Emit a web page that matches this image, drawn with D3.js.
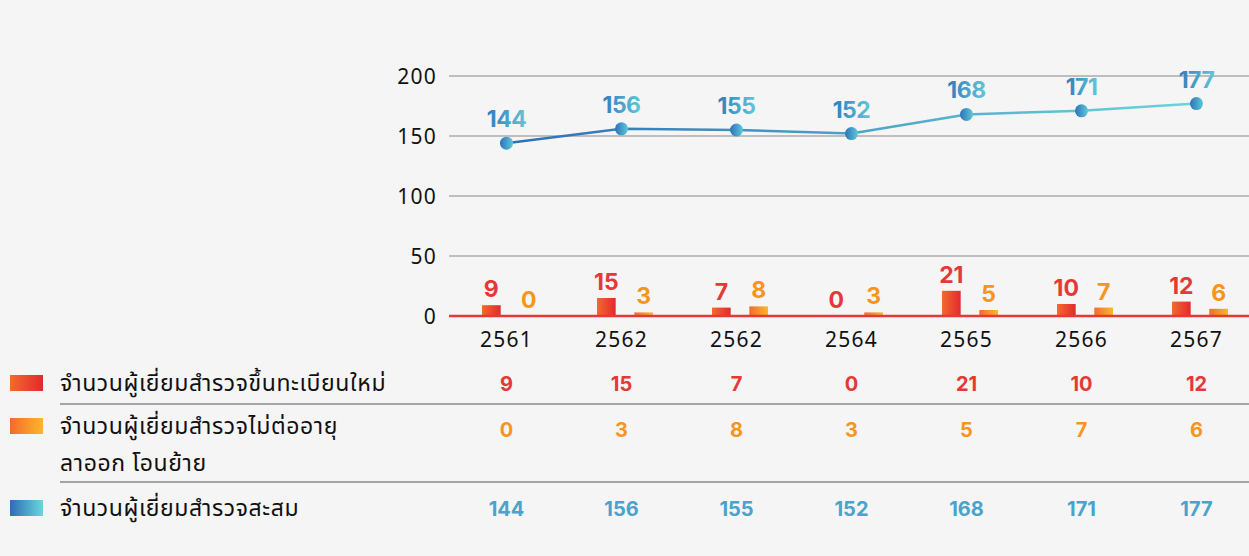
<!DOCTYPE html>
<html>
<head>
<meta charset="utf-8">
<script src="https://cdn.jsdelivr.net/npm/d3@7"></script>
<style>
  body { margin: 0; background: #f5f5f5; }
  svg { display: block; font-family: "Noto Sans Thai", "Noto Sans", sans-serif; }
  .num { font-family: Inter, "Noto Sans", sans-serif; font-weight: 700; }
  .tick { letter-spacing: 1.2px; }
</style>
</head>
<body>
<script>
// data
var years = ["2561", "2562", "2562", "2564", "2565", "2566", "2567"];
var newVisitors = [9, 15, 7, 0, 21, 10, 12];
var leftVisitors = [0, 3, 8, 3, 5, 7, 6];
var totalVisitors = [144, 156, 155, 152, 168, 171, 177];
var yTicks = [0, 50, 100, 150, 200];
var legendLabels = [
  ["จำนวนผู้เยี่ยมสำรวจขึ้นทะเบียนใหม่"],
  ["จำนวนผู้เยี่ยมสำรวจไม่ต่ออายุ", "ลาออก โอนย้าย"],
  ["จำนวนผู้เยี่ยมสำรวจสะสม"]
];

var width = 1249,
    height = 556;

var svg = d3.select("body")
    .append("svg")
    .attr("width", width)
    .attr("height", height);

var defs = svg.append("defs");

function hGrad(id, c1, c2) {
  var g = defs.append("linearGradient").attr("id", id)
      .attr("x1", "0%").attr("x2", "100%").attr("y1", "0%").attr("y2", "0%");
  g.append("stop").attr("offset", "0%").attr("stop-color", c1);
  g.append("stop").attr("offset", "100%").attr("stop-color", c2);
}
hGrad("gNew", "#f26b2d", "#e2292e");
hGrad("gOut", "#f26b2d", "#fcb72b");
hGrad("gTot", "#2d6db4", "#6ad6dc");
hGrad("gDot", "#2d72b8", "#5ec8da");
hGrad("gTxt", "#2f7bbd", "#61c6d8");

// line gradient across the whole plot
var lineGrad = defs.append("linearGradient").attr("id", "gLine")
    .attr("gradientUnits", "userSpaceOnUse")
    .attr("x1", 500).attr("x2", 1200).attr("y1", 0).attr("y2", 0);
lineGrad.append("stop").attr("offset", "0%").attr("stop-color", "#2d6db4");
lineGrad.append("stop").attr("offset", "100%").attr("stop-color", "#6ad6dc");

//scales
var x = d3.scaleBand()
    .domain(d3.range(years.length))
    .range([449, 1254]);

var y = d3.scaleLinear()
    .domain([0, 200])
    .range([316, 76]);

var xSub = d3.scaleBand()
    .domain(["new", "out"])
    .range([-24.5, 31.5])
    .paddingInner(0.5);

function cx(i) { return x(i) + x.bandwidth() / 2; }

//grid lines
svg.append("g")
    .selectAll("line")
    .data(yTicks.filter(function(d){ return d > 0; }))
    .enter()
    .append("line")
    .attr("x1", 449).attr("x2", width)
    .attr("y1", function(d){ return y(d); })
    .attr("y2", function(d){ return y(d); })
    .attr("stroke", "#ababab")
    .attr("stroke-width", 1.5);

//y tick labels
svg.append("g")
    .selectAll("text")
    .data(yTicks)
    .enter()
    .append("text")
    .attr("class", "tick")
    .attr("x", 437)
    .attr("y", function(d){ return y(d) + 8; })
    .attr("text-anchor", "end")
    .attr("font-size", 21)
    .attr("fill", "#111")
    .text(function(d){ return d; });

//bars
var bars = svg.append("g");
bars.selectAll(".barNew")
    .data(newVisitors)
    .enter()
    .append("rect")
    .attr("x", function(d, i){ return cx(i) + xSub("new"); })
    .attr("width", xSub.bandwidth())
    .attr("y", function(d){ return y(d); })
    .attr("height", function(d){ return y(0) - y(d); })
    .attr("fill", "url(#gNew)");

bars.selectAll(".barOut")
    .data(leftVisitors)
    .enter()
    .append("rect")
    .attr("x", function(d, i){ return cx(i) + xSub("out"); })
    .attr("width", xSub.bandwidth())
    .attr("y", function(d){ return y(d); })
    .attr("height", function(d){ return y(0) - y(d); })
    .attr("fill", "url(#gOut)");

//baseline
svg.append("line")
    .attr("x1", 449).attr("x2", width)
    .attr("y1", y(0)).attr("y2", y(0))
    .attr("stroke", "#e53935")
    .attr("stroke-width", 2.5);

//bar labels
svg.append("g")
    .selectAll("text")
    .data(newVisitors)
    .enter()
    .append("text")
    .attr("class", "num")
    .attr("x", function(d, i){ return cx(i) + xSub("new") + xSub.bandwidth() / 2; })
    .attr("y", function(d){ return y(d) - 8; })
    .attr("text-anchor", "middle")
    .attr("font-size", 23)
    .attr("fill", "#e53935")
    .text(function(d){ return d; });

svg.append("g")
    .selectAll("text")
    .data(leftVisitors)
    .enter()
    .append("text")
    .attr("class", "num")
    .attr("x", function(d, i){ return cx(i) + xSub("out") + xSub.bandwidth() / 2; })
    .attr("y", function(d){ return y(d) - 8; })
    .attr("text-anchor", "middle")
    .attr("font-size", 23)
    .attr("fill", "#f7941d")
    .text(function(d){ return d; });

//category labels
svg.append("g")
    .selectAll("text")
    .data(years)
    .enter()
    .append("text")
    .attr("class", "tick")
    .attr("x", function(d, i){ return cx(i); })
    .attr("y", 347)
    .attr("text-anchor", "middle")
    .attr("font-size", 21)
    .attr("fill", "#111")
    .text(function(d){ return d; });

//cumulative line
var line = d3.line()
    .x(function(d, i){ return cx(i); })
    .y(function(d){ return y(d); });

svg.append("path")
    .datum(totalVisitors)
    .attr("d", line)
    .attr("fill", "none")
    .attr("stroke", "url(#gLine)")
    .attr("stroke-width", 2.5);

svg.append("g")
    .selectAll("circle")
    .data(totalVisitors)
    .enter()
    .append("circle")
    .attr("cx", function(d, i){ return cx(i); })
    .attr("cy", function(d){ return y(d); })
    .attr("r", 6.5)
    .attr("fill", "url(#gDot)");

svg.append("g")
    .selectAll("text")
    .data(totalVisitors)
    .enter()
    .append("text")
    .attr("class", "num")
    .attr("x", function(d, i){ return cx(i); })
    .attr("y", function(d){ return y(d) - 16; })
    .attr("text-anchor", "middle")
    .attr("font-size", 23)
    .attr("letter-spacing", -0.5)
    .attr("fill", "url(#gTxt)")
    .text(function(d){ return d; });

//table below the chart
var rows = [
  {swatch: "url(#gNew)", color: "#e53935", values: newVisitors, top: 375, textY: [391], valueY: 391},
  {swatch: "url(#gOut)", color: "#f7941d", values: leftVisitors, top: 418, textY: [434, 471], valueY: 437},
  {swatch: "url(#gTot)", color: "#4aa3cc", values: totalVisitors, top: 500, textY: [516], valueY: 516}
];

rows.forEach(function(r, k){
  var g = svg.append("g");
  g.append("rect")
      .attr("x", 10).attr("y", r.top)
      .attr("width", 33).attr("height", 16)
      .attr("fill", r.swatch);
  g.selectAll(".lbl")
      .data(legendLabels[k])
      .enter()
      .append("text")
      .attr("x", 60)
      .attr("y", function(d, j){ return r.textY[j]; })
      .attr("font-size", 23)
      .attr("letter-spacing", 0.6)
      .attr("fill", "#111")
      .text(function(d){ return d; });
  g.selectAll(".val")
      .data(r.values)
      .enter()
      .append("text")
      .attr("class", "num")
      .attr("x", function(d, i){ return cx(i); })
      .attr("y", r.valueY)
      .attr("text-anchor", "middle")
      .attr("font-size", 20)
      .attr("fill", r.color)
      .text(function(d){ return d; });
});

//dividers
svg.append("g")
    .selectAll("line")
    .data([404, 482])
    .enter()
    .append("line")
    .attr("x1", 60).attr("x2", width)
    .attr("y1", function(d){ return d; })
    .attr("y2", function(d){ return d; })
    .attr("stroke", "#555")
    .attr("stroke-width", 1.2);
</script>
</body>
</html>
